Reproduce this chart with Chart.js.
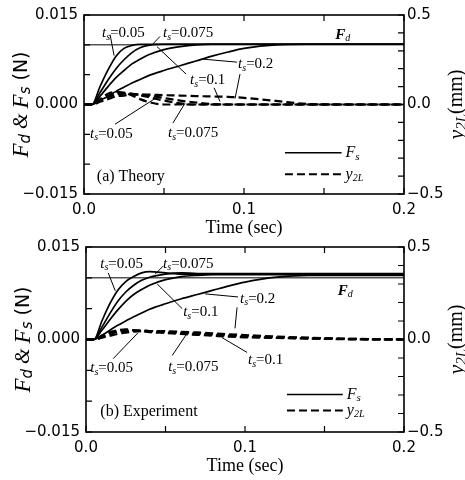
<!DOCTYPE html>
<html>
<head>
<meta charset="utf-8">
<script src="https://cdn.jsdelivr.net/npm/chart.js@4.4.1/dist/chart.umd.min.js"></script>
<style>
  html, body { margin: 0; padding: 0; background: #fff; }
  #wrap { position: relative; width: 465px; height: 480px; }
  canvas { position: absolute; left: 0; }
</style>
</head>
<body>
<div id="wrap">
  <canvas id="theory" width="465" height="240" style="top:0px"></canvas>
  <canvas id="experiment" width="465" height="248" style="top:232px"></canvas>
</div>
<script>
// time axis (sec)
const time = [0, 0.005, 0.01, 0.015, 0.02, 0.025, 0.03, 0.035, 0.04, 0.05,
              0.06, 0.07, 0.08, 0.09, 0.1, 0.12, 0.14, 0.16, 0.18, 0.2];

// desired force Fd (N)
const fdLevel = 0.01;

// (a) theory : Fs (N)
const thFs005  = [0, 0, 0.0030, 0.0058, 0.0081, 0.0094, 0.0099, 0.0101, 0.0101, 0.0101, 0.0101, 0.0101, 0.0101, 0.0101, 0.0101, 0.0101, 0.0101, 0.0101, 0.0101, 0.0101];
const thFs0075 = [0, 0, 0.0020, 0.0041, 0.0060, 0.0075, 0.0087, 0.0095, 0.0099, 0.0101, 0.0101, 0.0101, 0.0101, 0.0101, 0.0101, 0.0101, 0.0101, 0.0101, 0.0101, 0.0101];
const thFs01   = [0, 0, 0.0014, 0.0030, 0.0045, 0.0057, 0.0068, 0.0076, 0.0083, 0.0092, 0.0097, 0.0100, 0.0101, 0.0101, 0.0101, 0.0101, 0.0101, 0.0101, 0.0101, 0.0101];
const thFs02   = [0, 0, 0.0007, 0.0014, 0.0022, 0.0029, 0.0036, 0.0042, 0.0048, 0.0057, 0.0065, 0.0073, 0.0081, 0.0088, 0.0094, 0.0100, 0.0101, 0.0101, 0.0101, 0.0101];
// (a) theory : y2L (mm)
const thY005  = [0, 0, 0.030, 0.060, 0.070, 0.065, 0.050, 0.030, 0.015, 0, 0, 0, 0, 0, 0, 0, 0, 0, 0, 0];
const thY0075 = [0, 0, 0.025, 0.050, 0.060, 0.065, 0.060, 0.052, 0.042, 0.022, 0.006, 0, 0, 0, 0, 0, 0, 0, 0, 0];
const thY01   = [0, 0, 0.020, 0.040, 0.055, 0.060, 0.060, 0.056, 0.050, 0.036, 0.022, 0.011, 0.003, 0, 0, 0, 0, 0, 0, 0];
const thY02   = [0, 0, 0.015, 0.030, 0.045, 0.050, 0.055, 0.055, 0.055, 0.052, 0.050, 0.047, 0.045, 0.043, 0.037, 0.020, 0.003, 0, 0, 0];

// (b) experiment : Fs (N)
const exFs005  = [0, 0, 0.0030, 0.0058, 0.0080, 0.0094, 0.0102, 0.0108, 0.0110, 0.0108, 0.0106, 0.0106, 0.0106, 0.0106, 0.0106, 0.0106, 0.0106, 0.0106, 0.0106, 0.0106];
const exFs0075 = [0, 0, 0.0020, 0.0042, 0.0062, 0.0077, 0.0088, 0.0096, 0.0101, 0.0106, 0.0108, 0.0107, 0.0107, 0.0107, 0.0107, 0.0107, 0.0107, 0.0107, 0.0107, 0.0107];
const exFs01   = [0, 0, 0.0015, 0.0032, 0.0048, 0.0062, 0.0073, 0.0081, 0.0088, 0.0097, 0.0102, 0.0104, 0.0105, 0.0105, 0.0105, 0.0105, 0.0105, 0.0105, 0.0105, 0.0105];
const exFs02   = [0, 0, 0.0007, 0.0015, 0.0023, 0.0030, 0.0037, 0.0043, 0.0049, 0.0058, 0.0066, 0.0073, 0.0080, 0.0087, 0.0093, 0.0101, 0.0104, 0.0104, 0.0104, 0.0104];
// (b) experiment : y2L (mm)
const exY005  = [0, 0, 0.020, 0.040, 0.050, 0.055, 0.050, 0.045, 0.040, 0.035, 0.030, 0.025, 0.020, 0.015, 0.012, 0.008, 0.005, 0.002, 0, 0];
const exY0075 = [0, 0, 0.015, 0.035, 0.045, 0.050, 0.050, 0.048, 0.045, 0.040, 0.035, 0.030, 0.025, 0.020, 0.015, 0.010, 0.006, 0.003, 0.001, 0];
const exY01   = [0, 0, 0.012, 0.030, 0.040, 0.045, 0.048, 0.048, 0.046, 0.042, 0.037, 0.032, 0.027, 0.022, 0.018, 0.012, 0.007, 0.004, 0.002, 0];
const exY02   = [0, 0, 0.010, 0.020, 0.030, 0.037, 0.042, 0.045, 0.046, 0.045, 0.042, 0.038, 0.033, 0.028, 0.024, 0.016, 0.010, 0.005, 0.002, 0];

// tick label values
const fTicks = [-0.015, 0, 0.015];
const yTicks = [-0.5, 0, 0.5];
const tTicks = [0, 0.1, 0.2];

const serif = '"Liberation Serif", "Times New Roman", serif';
const sans = '"DejaVu Sans", sans-serif';

function pts(vals) {
  return vals.map((v, i) => ({ x: time[i], y: v }));
}
function isIn(v, list) {
  return list.some(l => Math.abs(l - v) < 1e-9);
}
function minus(s) { return s.replace('-', '\u2212'); }

// draw text made of pieces (italic, subscript ...)
function rich(ctx, x, y, parts, measureOnly) {
  let cx = x;
  parts.forEach(p => {
    ctx.font = p.f;
    if (!measureOnly) ctx.fillText(p.t, cx, y + (p.dy || 0));
    cx += ctx.measureText(p.t).width;
  });
  return cx - x;
}
function tsParts(val) {
  return [
    { t: 't', f: 'italic 15px ' + serif },
    { t: 's', f: 'italic 10px ' + serif, dy: 4 },
    { t: '=' + val, f: '15px ' + serif }
  ];
}

function makePlugin(p) {
  return {
    id: 'panelDeco',
    afterDatasetsDraw(chart) {
      const { ctx, chartArea: a, scales } = chart;
      const X = v => scales.x.getPixelForValue(v);
      const Y = v => scales.y.getPixelForValue(v);
      ctx.save();
      ctx.strokeStyle = '#000';
      ctx.fillStyle = '#000';

      // inward ticks
      ctx.lineWidth = 1.2;
      ctx.beginPath();
      scales.x.ticks.forEach(t => {
        const px = X(t.value);
        ctx.moveTo(px, a.bottom); ctx.lineTo(px, a.bottom - 6);
        ctx.moveTo(px, a.top); ctx.lineTo(px, a.top + 6);
      });
      scales.y.ticks.forEach(t => {
        const py = Y(t.value);
        ctx.moveTo(a.left, py); ctx.lineTo(a.left + 6, py);
      });
      scales.y2.ticks.forEach(t => {
        const py = scales.y2.getPixelForValue(t.value);
        ctx.moveTo(a.right, py); ctx.lineTo(a.right - 6, py);
      });
      ctx.stroke();
      // frame
      ctx.lineWidth = 1.6;
      ctx.strokeRect(a.left, a.top, a.right - a.left, a.bottom - a.top);

      // leader lines
      ctx.lineWidth = 1;
      ctx.beginPath();
      p.leaders.forEach(l => {
        ctx.moveTo(X(l[0]), Y(l[1]));
        ctx.lineTo(X(l[2]), Y(l[3]));
      });
      ctx.stroke();

      // ts labels
      ctx.textBaseline = 'middle';
      ctx.textAlign = 'left';
      p.labels.forEach(l => rich(ctx, X(l[1]), Y(l[2]), tsParts(l[0])));

      // Fd label
      rich(ctx, X(p.fdPos[0]), Y(p.fdPos[1]), [
        { t: 'F', f: 'italic bold 15px ' + serif },
        { t: 'd', f: 'italic 10px ' + serif, dy: 4 }
      ]);

      // legend
      const lg = p.legend;
      ctx.lineWidth = 1.5;
      ctx.beginPath();
      ctx.moveTo(X(lg.x0), Y(lg.fs)); ctx.lineTo(X(lg.x1), Y(lg.fs));
      ctx.stroke();
      ctx.lineWidth = 2;
      ctx.setLineDash([8, 4]);
      ctx.beginPath();
      ctx.moveTo(X(lg.x0), Y(lg.y2l)); ctx.lineTo(X(lg.x1), Y(lg.y2l));
      ctx.stroke();
      ctx.setLineDash([]);
      rich(ctx, X(lg.x1) + 4, Y(lg.fs), [
        { t: 'F', f: 'italic 16px ' + serif },
        { t: 's', f: 'italic 11px ' + serif, dy: 4 }
      ]);
      rich(ctx, X(lg.x1) + 4, Y(lg.y2l), [
        { t: 'y', f: 'italic 16px ' + serif },
        { t: '2L', f: 'italic 10px ' + serif, dy: 4 }
      ]);

      // panel caption
      ctx.font = '16px ' + serif;
      ctx.fillText(p.caption, X(p.captionPos[0]), Y(p.captionPos[1]));

      // x title
      ctx.textAlign = 'center';
      ctx.font = '18px ' + serif;
      ctx.fillText('Time (sec)', (a.left + a.right) / 2, a.bottom + 34);

      // left title
      ctx.textAlign = 'left';
      const left = [
        { t: 'F', f: 'italic 23px ' + serif },
        { t: 'd', f: 'italic 15px ' + sans, dy: 4 },
        { t: ' & ', f: 'italic 20px ' + serif },
        { t: 'F', f: 'italic 23px ' + serif },
        { t: 's', f: 'italic 15px ' + sans, dy: 4 },
        { t: ' (N)', f: '19px ' + sans }
      ];
      ctx.save();
      ctx.translate(a.left - 62, (a.top + a.bottom) / 2);
      ctx.rotate(-Math.PI / 2);
      let w = rich(ctx, 0, 0, left, true);
      rich(ctx, -w / 2, 0, left);
      ctx.restore();

      // right title
      const right = [
        { t: 'y', f: 'italic 22px ' + serif },
        { t: '2L', f: 'italic 15px ' + serif, dy: 5 },
        { t: '(mm)', f: '20px ' + serif }
      ];
      ctx.save();
      ctx.translate(a.right + 53, (a.top + a.bottom) / 2);
      ctx.rotate(-Math.PI / 2);
      w = rich(ctx, 0, 0, right, true);
      rich(ctx, -w / 2, 0, right);
      ctx.restore();

      ctx.restore();
    }
  };
}

function solid(data) {
  return { data: pts(data), yAxisID: 'y', borderColor: '#000', borderWidth: 1.7,
           pointRadius: 0, cubicInterpolationMode: 'monotone', fill: false };
}
function dashed(data) {
  return { data: pts(data), yAxisID: 'y2', borderColor: '#000', borderWidth: 2.2,
           borderDash: [8, 4], pointRadius: 0, cubicInterpolationMode: 'monotone', fill: false };
}

function buildPanel(id, p) {
  const fdLine = { data: [{ x: time[0], y: fdLevel }, { x: time[time.length - 1], y: fdLevel }],
                   yAxisID: 'y', borderColor: '#000', borderWidth: 1, pointRadius: 0 };
  const noGrid = { display: false, drawTicks: false };
  return new Chart(document.getElementById(id), {
    type: 'line',
    data: {
      datasets: [fdLine].concat(p.fs.map(solid), p.y2l.map(dashed))
    },
    options: {
      responsive: false,
      animation: false,
      layout: { padding: { top: p.top, left: 0, right: 0, bottom: 0 } },
      plugins: { legend: { display: false }, tooltip: { enabled: false } },
      scales: {
        x: {
          type: 'linear', min: 0, max: 0.2,
          grid: noGrid, border: { display: false },
          ticks: {
            stepSize: 0.05, autoSkip: false, maxRotation: 0, padding: 7,
            color: '#000', font: { family: sans, size: 15 },
            callback: v => isIn(v, tTicks) ? v.toFixed(1) : ''
          },
          afterFit: s => { s.height = p.xh; }
        },
        y: {
          position: 'left', min: -0.015, max: 0.015,
          grid: noGrid, border: { display: false },
          ticks: {
            stepSize: 0.005, autoSkip: false, padding: 6,
            color: '#000', font: { family: sans, size: 15 },
            callback: v => isIn(v, fTicks) ? minus((Math.abs(v) < 1e-9 ? 0 : v).toFixed(3)) : ''
          },
          afterFit: s => { s.width = p.lw; }
        },
        y2: {
          position: 'right', min: -0.5, max: 0.5,
          grid: noGrid, border: { display: false },
          ticks: {
            stepSize: 0.1, autoSkip: false, padding: 3,
            color: '#000', font: { family: sans, size: 15 },
            callback: v => isIn(v, yTicks) ? minus((Math.abs(v) < 1e-9 ? 0 : v).toFixed(1)) : ''
          },
          afterFit: s => { s.width = 61; }
        }
      }
    },
    plugins: [makePlugin(p)]
  });
}

buildPanel('theory', {
  top: 12, xh: 46, lw: 84,
  fs: [thFs005, thFs0075, thFs01, thFs02],
  y2l: [thY005, thY0075, thY01, thY02],
  labels: [
    ['0.05', 0.0113, 0.0119],
    ['0.075', 0.0494, 0.0119],
    ['0.2', 0.0963, 0.0068],
    ['0.1', 0.0663, 0.0041],
    ['0.05', 0.0038, -0.0049],
    ['0.075', 0.0525, -0.0048]
  ],
  leaders: [
    [0.0163, 0.0117, 0.0188, 0.0082],
    [0.0475, 0.0114, 0.0425, 0.0100],
    [0.0956, 0.0071, 0.0744, 0.0076],
    [0.0638, 0.0051, 0.0456, 0.0097],
    [0.0813, 0.0028, 0.0850, 0.0005],
    [0.0975, 0.0051, 0.0944, 0.0010],
    [0.0194, -0.0033, 0.0444, 0.0010],
    [0.0556, -0.0031, 0.0631, 0.0002]
  ],
  fdPos: [0.157, 0.0117],
  legend: { x0: 0.1256, x1: 0.161, fs: -0.0081, y2l: -0.0117 },
  caption: '(a) Theory', captionPos: [0.008, -0.0122]
});

buildPanel('experiment', {
  top: 14, xh: 48, lw: 86,
  fs: [exFs005, exFs0075, exFs01, exFs02],
  y2l: [exY005, exY0075, exY01, exY02],
  labels: [
    ['0.05', 0.0090, 0.0123],
    ['0.075', 0.0485, 0.0123],
    ['0.2', 0.0969, 0.0066],
    ['0.1', 0.0611, 0.0044],
    ['0.05', 0.0027, -0.0047],
    ['0.075', 0.0517, -0.0045],
    ['0.1', 0.1019, -0.0034]
  ],
  leaders: [
    [0.0140, 0.0108, 0.0184, 0.0079],
    [0.0485, 0.0119, 0.0435, 0.0106],
    [0.0956, 0.0069, 0.0749, 0.0074],
    [0.0605, 0.0050, 0.0448, 0.0090],
    [0.0950, 0.0052, 0.0937, 0.0018],
    [0.0171, -0.0031, 0.0328, 0.0011],
    [0.0542, -0.0026, 0.0636, 0.0010],
    [0.1013, -0.0021, 0.0856, 0.0003]
  ],
  fdPos: [0.1584, 0.0079],
  legend: { x0: 0.1264, x1: 0.1615, fs: -0.0089, y2l: -0.0115 },
  caption: '(b) Experiment', captionPos: [0.009, -0.0118]
});
</script>
</body>
</html>
